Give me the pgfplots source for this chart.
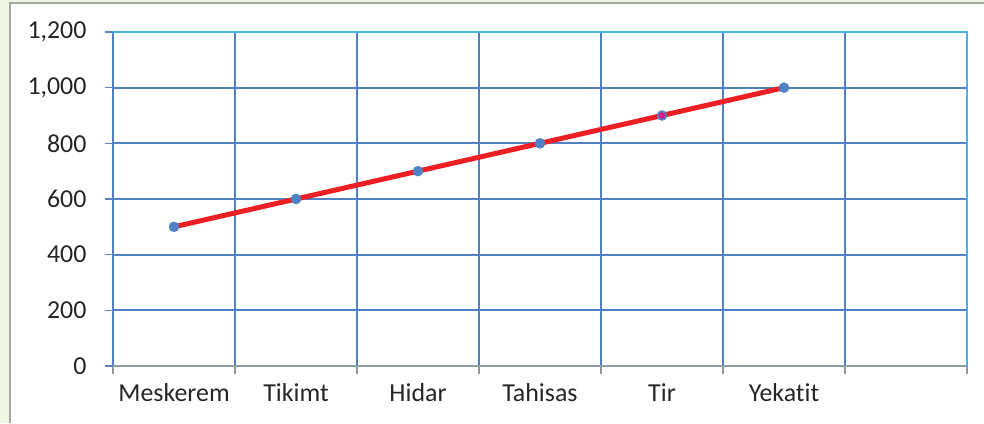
\documentclass[border=0pt]{standalone}
\usepackage{pgfplots}
\pgfplotsset{compat=1.18}
\usepackage{fontspec}
\setmainfont[Ligatures=NoCommon]{Carlito}
\definecolor{bgg}{RGB}{239,246,228}
\definecolor{frm}{RGB}{165,170,160}
\definecolor{gridb}{RGB}{79,129,196}
\definecolor{ltb}{RGB}{72,176,230}
\definecolor{axg}{RGB}{140,158,166}
\definecolor{tkg}{RGB}{150,150,150}
\definecolor{lred}{RGB}{237,30,36}
\definecolor{mblue}{RGB}{79,129,196}
\definecolor{mag}{RGB}{225,20,130}
\begin{document}
\begin{tikzpicture}[x=1bp,y=1bp]
\path[use as bounding box] (0,0) rectangle (984,423);
\fill[bgg] (0,0) rectangle (984,423);
\fill[white] (10,0) rectangle (984,420);
\draw[frm,line width=2.5bp] (10,0) -- (10,420) -- (984,420);
\begin{axis}[
  at={(113bp,57bp)}, anchor=south west,
  scale only axis, width=854bp, height=334bp,
  xmin=-0.5, xmax=6.5, ymin=0, ymax=1200,
  axis line style={draw=none},
  xtick={0,1,2,3,4,5},
  xticklabels={Meskerem,Tikimt,Hidar,Tahisas,Tir,Yekatit},
  minor xtick={-0.5,0.5,...,6.5},
  ytick={0,200,...,1200},
  major x tick style={draw=none},
  minor x tick style={tkg, line width=1.5bp},
  minor tick length=8bp,
  major tick length=8bp,
  tick align=outside,
  y tick style={gridb!70!gray, line width=1.5bp},
  xtick pos=bottom, ytick pos=left,
  minor x grid style={gridb, line width=1.8bp},
  major y grid style={gridb, line width=1.8bp},
  xminorgrids=true, ymajorgrids=true,
  xmajorgrids=false,
  tick label style={font=\fontsize{26}{30}\selectfont, text=black!85},
  /pgf/number format/.cd, 1000 sep={,}, assume math mode=true,
  /pgfplots/.cd,
  yticklabel style={xshift=-15bp},
  xticklabel style={anchor=base, yshift=-27bp},
  clip=false,
]
\draw[axg, line width=2bp] (rel axis cs:0,0) -- (rel axis cs:1,0);
\draw[ltb, line width=2.5bp] (rel axis cs:0,1) -- (rel axis cs:1,1) -- (rel axis cs:1,0);
\addplot[lred, line width=5bp, mark=*, mark size=5bp, mark options={mblue, draw=mblue, line width=0.5bp}] coordinates {
(0,500) (1,600) (2,700) (3,800) (4,900) (5,1000)
};
\addplot[only marks, mark=*, mark size=3bp, mark options={fill=mag, draw=mag}] coordinates {(4,900)};
\end{axis}
\end{tikzpicture}
\end{document}
